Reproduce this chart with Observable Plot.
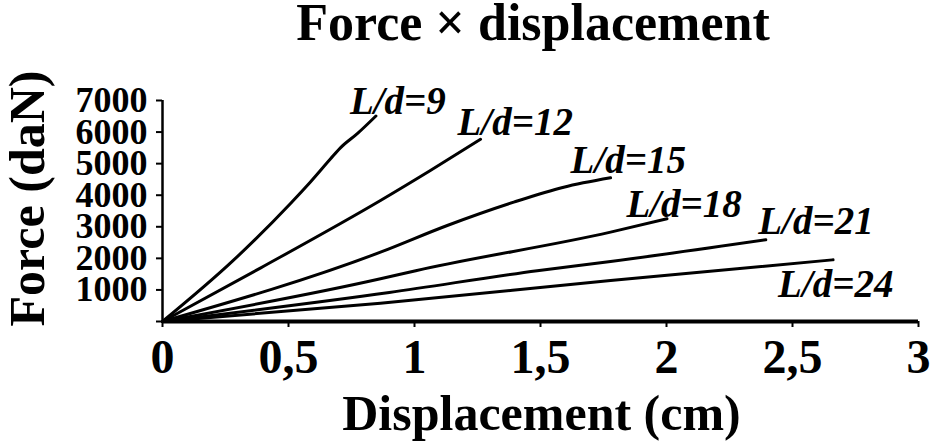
<!DOCTYPE html>
<html><head><meta charset="utf-8">
<script src="https://cdn.jsdelivr.net/npm/d3@7"></script>
<script src="https://cdn.jsdelivr.net/npm/@observablehq/plot@0.6"></script>
<style>html,body{margin:0;padding:0;background:#fff}</style>
</head><body><div id="chart"></div>
<script>
// ---- data ----
const seriesNames = ["L/d=9", "L/d=12", "L/d=15", "L/d=18", "L/d=21", "L/d=24"];
const disp9   = [0, 0.283, 0.508, 0.587, 0.667, 0.706, 0.773, 0.847];
const force9  = [0, 1950, 3740, 4420, 5154, 5500, 5950, 6510];
const disp12  = [0, 0.39, 0.865, 1.063, 1.262];
const force12 = [0, 1700, 3833, 4783, 5770];
const disp15  = [0, 0.865, 1.13, 1.394, 1.592, 1.778];
const force15 = [0, 2196, 3041, 3780, 4254, 4552];
const disp18  = [0, 0.865, 1.005, 1.778, 2.002];
const force18 = [0, 1352, 1610, 2830, 3253];
const disp21  = [0, 0.9, 1.487, 1.778, 2.394];
const force21 = [0, 920, 1610, 1901, 2588];
const disp24  = [0, 0.865, 1.778, 2.661];
const force24 = [0, 581, 1299, 1954];
const xTicks = [0, 0.5, 1, 1.5, 2, 2.5, 3];
const yTicks = [0, 1000, 2000, 3000, 4000, 5000, 6000, 7000];
const titleText = "Force × displacement";
const xLabelText = "Displacement (cm)";
const yLabelText = "Force (daN)";

// ---- build table ----
const dispAll = [disp9, disp12, disp15, disp18, disp21, disp24];
const forceAll = [force9, force12, force15, force18, force21, force24];
const rows = seriesNames.flatMap((name, i) =>
  dispAll[i].map((d, j) => ({series: name, disp: d, force: forceAll[i][j]})));

// label offsets (px) from each curve's last point: [dx, dy]
const labelOffsets = [[-26, -2], [-23, -4], [-40, -4.6], [-40.6, -1.6], [-7.5, -6], [-55, 36.7]];

const serif = "'Liberation Serif', 'Times New Roman', serif";

const labelMarks = seriesNames.map((name, i) =>
  Plot.text(rows.filter(r => r.series === name).slice(-1), {
    x: "disp", y: "force", text: "series",
    dx: labelOffsets[i][0], dy: labelOffsets[i][1],
    textAnchor: "start", lineAnchor: "bottom",
    fontSize: 39, fontStyle: "italic", fontWeight: "bold", fontFamily: serif, fill: "black"
  }));

const chart = Plot.plot({
  width: 944,
  height: 447,
  marginLeft: 162,
  marginRight: 26,
  marginTop: 100,
  marginBottom: 126,
  style: {fontFamily: serif, fontWeight: "bold", background: "white", color: "black"},
  x: {domain: [0, 3], axis: null},
  y: {domain: [0, 7000], axis: null},
  marks: [
    Plot.axisX({ticks: xTicks, tickSize: 6, tickPadding: 11, strokeWidth: 2,
      tickFormat: d => String(d).replace(".", ","), fontSize: 48, fontWeight: "bold",
      fontFamily: serif, label: null}),
    Plot.axisY({ticks: yTicks, tickSize: 6, tickPadding: 9, strokeWidth: 2,
      tickFormat: d => d === 0 ? "" : String(d), fontSize: 36, fontWeight: "bold",
      fontFamily: serif, label: null}),
    Plot.ruleX([0], {y1: 0, y2: 7000, strokeWidth: 2.5, stroke: "black"}),
    Plot.ruleY([0], {x1: 0, x2: 3, strokeWidth: 4, stroke: "black"}),
    Plot.line(rows, {x: "disp", y: "force", z: "series", stroke: "black", strokeWidth: 3, curve: "monotone-x"}),
    ...labelMarks,
    Plot.text([titleText], {frameAnchor: "top", dx: -7.5, dy: -61, lineAnchor: "bottom",
      fontSize: 52, fontWeight: "bold", fontFamily: serif, fill: "black"}),
    Plot.text([xLabelText], {frameAnchor: "bottom", dx: 1, dy: 108, lineAnchor: "bottom",
      fontSize: 50, fontWeight: "bold", fontFamily: serif, fill: "black"}),
    Plot.text([yLabelText], {frameAnchor: "left", dx: -119, dy: -12.5, rotate: -90,
      textAnchor: "middle", lineAnchor: "bottom",
      fontSize: 50, fontWeight: "bold", fontFamily: serif, fill: "black"})
  ]
});
document.getElementById("chart").appendChild(chart);
</script>
</body></html>
